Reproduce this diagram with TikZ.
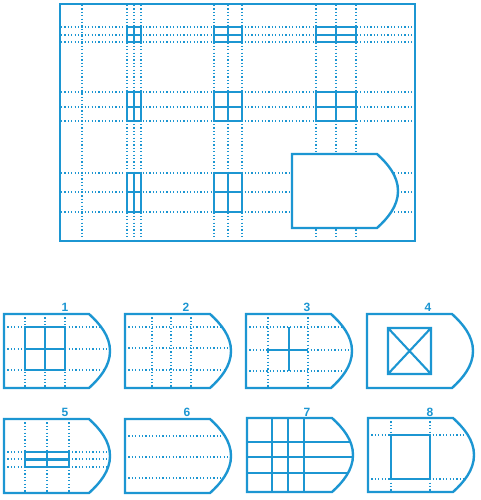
\documentclass[tikz,border=0pt]{standalone}
\usepackage{fontspec}
\setsansfont{Liberation Sans}
\definecolor{bl}{RGB}{28,150,210}
\begin{document}
\begin{tikzpicture}[x=1pt,y=-1pt,
  dot/.style={draw=bl, line width=1.5pt, dash pattern=on 1.2pt off 2.2pt},
  win/.style={draw=bl, line width=2.1pt, fill=white},
  sol/.style={draw=bl, line width=2.1pt},
  outl/.style={draw=bl, line width=2.4pt, line join=miter},
  lab/.style={text=bl, font=\sffamily\bfseries\fontsize{12}{14}\selectfont, inner sep=0pt},
  shp/.style={insert path={(0,0) -- (85,0) .. controls (96,10) and (106,22) .. (106,37) .. controls (106,52) and (96,64) .. (85,74) -- (0,74) -- cycle}}
]
\useasboundingbox (0,0) rectangle (480,500);
\fill[white] (0,0) rectangle (480,500);

% ---------- main panel ----------
\foreach \x in {82,127,134,141,214,228,242,316,336,356}
  \draw[dot] (\x,5) -- (\x,240);
\foreach \y in {27,35,42,92,107,121,173,192,212}
  \draw[dot] (61,\y) -- (414,\y);
\foreach \a/\m/\b/\c/\n/\d in {127/134/141/27/35/42, 214/228/242/27/35/42, 316/336/356/27/35/42,
  127/134/141/92/107/121, 214/228/242/92/107/121, 316/336/356/92/107/121,
  127/134/141/173/192/212, 214/228/242/173/192/212}
  \draw[win] (\a,\c) rectangle (\b,\d) (\m,\c) -- (\m,\d) (\a,\n) -- (\b,\n);
\begin{scope}[shift={(292,154)}]
  \draw[outl, fill=white] [shp];
\end{scope}
\draw[draw=bl, line width=2.8pt] (60,4) rectangle (415,241);

% ---------- option 1 ----------
\begin{scope}[shift={(4,314)}]
  \begin{scope}
    \clip [shp];
    \foreach \x in {21,41,61} \draw[dot] (\x,0) -- (\x,74);
    \foreach \y in {13,35,56} \draw[dot] (0,\y) -- (106,\y);
  \end{scope}
  \draw[win] (21,13) rectangle (61,56) (41,13) -- (41,56) (21,35) -- (61,35);
  \draw[outl] [shp];
\end{scope}
% ---------- option 2 ----------
\begin{scope}[shift={(125,314)}]
  \begin{scope}
    \clip [shp];
    \foreach \x in {27,46,66} \draw[dot] (\x,0) -- (\x,74);
    \foreach \y in {13,34,56} \draw[dot] (0,\y) -- (106,\y);
  \end{scope}
  \draw[outl] [shp];
\end{scope}
% ---------- option 3 ----------
\begin{scope}[shift={(246,314)}]
  \begin{scope}
    \clip [shp];
    \foreach \x in {22,62} \draw[dot] (\x,0) -- (\x,74);
    \foreach \y in {13,36,57} \draw[dot] (0,\y) -- (106,\y);
  \end{scope}
  \draw[sol] (43,13) -- (43,57) (22,36) -- (62,36);
  \draw[outl] [shp];
\end{scope}
% ---------- option 4 ----------
\begin{scope}[shift={(367,314)}]
  \draw[win] (21,14) rectangle (64,60) (21,14) -- (64,60) (21,60) -- (64,14);
  \draw[outl] [shp];
\end{scope}
% ---------- option 5 ----------
\begin{scope}[shift={(4,419)}]
  \begin{scope}
    \clip [shp];
    \foreach \x in {21,43,65} \draw[dot] (\x,0) -- (\x,74);
    \foreach \y in {33,40,48} \draw[dot] (0,\y) -- (106,\y);
  \end{scope}
  \draw[win] (21,33) rectangle (65,48) (43,33) -- (43,48) (21,40.5) -- (65,40.5);
  \draw[outl] [shp];
\end{scope}
% ---------- option 6 ----------
\begin{scope}[shift={(125,419)}]
  \begin{scope}
    \clip [shp];
    \foreach \y in {17,38,59} \draw[dot] (0,\y) -- (106,\y);
  \end{scope}
  \draw[outl] [shp];
\end{scope}
% ---------- option 7 ----------
\begin{scope}[shift={(247,418)}]
  \begin{scope}
    \clip [shp];
    \foreach \x in {25,41,57} \draw[sol] (\x,0) -- (\x,74);
    \foreach \y in {24,39,55} \draw[sol] (0,\y) -- (106,\y);
  \end{scope}
  \draw[outl] [shp];
\end{scope}
% ---------- option 8 ----------
\begin{scope}[shift={(368,418)}]
  \begin{scope}
    \clip [shp];
    \foreach \x in {23,62} \draw[dot] (\x,0) -- (\x,74);
    \foreach \y in {17,61} \draw[dot] (0,\y) -- (106,\y);
  \end{scope}
  \draw[win] (23,17) rectangle (62,61);
  \draw[outl] [shp];
\end{scope}

% ---------- labels ----------
\node[lab] (l1) at (65,307.5) {1};
\node[lab] (l2) at (186,307.5) {2};
\node[lab] (l3) at (307,307.5) {3};
\node[lab] (l4) at (428,307.5) {4};
\node[lab] (l5) at (65,412) {5};
\node[lab] (l6) at (187,412) {6};
\node[lab] (l7) at (307,412) {7};
\node[lab] (l8) at (430,412) {8};
\end{tikzpicture}
\end{document}
